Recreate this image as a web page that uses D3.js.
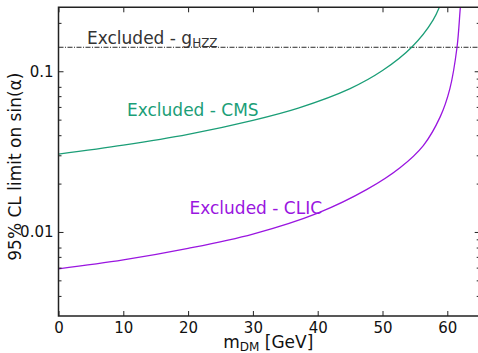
<!DOCTYPE html>
<html>
<head>
<meta charset="utf-8">
<script src="https://cdn.jsdelivr.net/npm/d3@7/dist/d3.min.js"></script>
<style>
html,body{margin:0;padding:0;background:#fff;}
svg{display:block;font-family:"DejaVu Sans",sans-serif;}
</style>
</head>
<body>
<svg id="chart" width="478" height="353"></svg>
<script>
// Data
const cmsMass = [0, 10, 20, 30, 37, 45, 50, 54.5, 57.8, 59.4];
const cmsLimit = [0.0305, 0.0347, 0.0405, 0.0495, 0.059, 0.078, 0.101, 0.141, 0.208, 0.29];
const clicMass = [0, 10, 20, 30, 40, 47.6, 52.7, 56.3, 58.9, 60.4, 61.5, 62.0, 62.2];
const clicLimit = [0.0059, 0.0067, 0.0079, 0.0097, 0.0131, 0.0184, 0.0251, 0.0345, 0.052, 0.078, 0.141, 0.246, 0.30];
const hzzLimit = [0.141];
const xTicks = [0, 10, 20, 30, 40, 50, 60];
const yMajor = [0.01, 0.1];
const yMinorLeft = [0.004, 0.005, 0.006, 0.007, 0.008, 0.02, 0.03, 0.04, 0.05, 0.06, 0.07, 0.08, 0.2];
const yMinorRight = [0.004, 0.005, 0.006, 0.007, 0.008, 0.009, 0.02, 0.03, 0.04, 0.05, 0.06, 0.07, 0.08, 0.09, 0.2];

const svg = d3.select("#chart");
const L = 58.5, R = 479.7, T = 7.3, B = 316;
const x = d3.scaleLinear().domain([0, 65]).range([L, R]);
const y = d3.scaleLog().domain([0.003, 0.25]).range([B, T]);

const green = "#1b9e77", purple = "#9a16e0", axisCol = "#222";

svg.append("defs").append("clipPath").attr("id", "clip")
  .append("rect").attr("x", L).attr("y", T).attr("width", R - L).attr("height", B - T);

const plot = svg.append("g").attr("clip-path", "url(#clip)");

// horizontal g_HZZ line
plot.append("line")
  .attr("x1", L).attr("x2", R)
  .attr("y1", y(hzzLimit[0])).attr("y2", y(hzzLimit[0]))
  .attr("stroke", "#111").attr("stroke-width", 0.9)
  .attr("stroke-dasharray", "5,1.5,1,1.5");

const line = d3.line().x(d => x(d[0])).y(d => y(d[1])).curve(d3.curveCatmullRom.alpha(0.5));
plot.append("path").datum(d3.zip(cmsMass, cmsLimit))
  .attr("d", line).attr("fill", "none").attr("stroke", green).attr("stroke-width", 1.3);
plot.append("path").datum(d3.zip(clicMass, clicLimit))
  .attr("d", line).attr("fill", "none").attr("stroke", purple).attr("stroke-width", 1.3);

// axes
function styleAxis(g) {
  g.select(".domain").remove();
  g.selectAll(".tick line").attr("stroke", axisCol).attr("stroke-width", 1);
  g.selectAll("text").attr("fill", "#111").attr("font-size", 15).attr("font-family", "DejaVu Sans");
}
const fmt = d => (d === 0.1 ? "0.1" : d === 0.01 ? "0.01" : "");
svg.append("g").attr("transform", `translate(0,${B})`)
  .call(d3.axisBottom(x).tickValues(xTicks).tickSizeInner(-5).tickSizeOuter(0).tickPadding(6).tickFormat(d3.format("d")))
  .call(styleAxis);
svg.append("g").attr("transform", `translate(0,${T})`)
  .call(d3.axisTop(x).tickValues(xTicks).tickSizeInner(-5).tickSizeOuter(0).tickFormat(""))
  .call(styleAxis);
svg.append("g").attr("transform", `translate(${L},0)`)
  .call(d3.axisLeft(y).tickValues(yMajor).tickSizeInner(-5).tickSizeOuter(0).tickPadding(5).tickFormat(fmt))
  .call(styleAxis);
svg.append("g").attr("transform", `translate(${L},0)`)
  .call(d3.axisLeft(y).tickValues(yMinorLeft).tickSizeInner(-3).tickSizeOuter(0).tickFormat(""))
  .call(styleAxis);
svg.append("g").attr("transform", `translate(${R},0)`)
  .call(d3.axisRight(y).tickValues(yMajor).tickSizeInner(-5).tickSizeOuter(0).tickFormat(""))
  .call(styleAxis);
svg.append("g").attr("transform", `translate(${R},0)`)
  .call(d3.axisRight(y).tickValues(yMinorRight).tickSizeInner(-3).tickSizeOuter(0).tickFormat(""))
  .call(styleAxis);

// frame
svg.append("path")
  .attr("d", `M${L},${T}H${R}V${B}H${L}Z`)
  .attr("fill", "none").attr("stroke", axisCol).attr("stroke-width", 1.5);

// annotations
const t1 = svg.append("text").attr("x", 87).attr("y", 43.5).attr("font-size", 17).attr("fill", "#333");
t1.append("tspan").text("Excluded - g");
t1.append("tspan").attr("font-size", 12).attr("dy", 3).text("HZZ");

svg.append("text").attr("x", 127).attr("y", 116).attr("font-size", 17).attr("fill", green).text("Excluded - CMS");
svg.append("text").attr("x", 189.5).attr("y", 214).attr("font-size", 17).attr("fill", purple).text("Excluded - CLIC");

// axis titles
const xl = svg.append("text").attr("x", (L + 478) / 2).attr("y", 348).attr("text-anchor", "middle")
  .attr("font-size", 17).attr("fill", "#111");
xl.append("tspan").text("m");
xl.append("tspan").attr("font-size", 12).attr("dy", 3).text("DM");
xl.append("tspan").attr("dy", -3).text(" [GeV]");

svg.append("text").attr("transform", `translate(21,${(T + B) / 2 + 5}) rotate(-90)`)
  .attr("text-anchor", "middle").attr("font-size", 17).attr("fill", "#111")
  .text("95% CL limit on sin(α)");
</script>
</body>
</html>
